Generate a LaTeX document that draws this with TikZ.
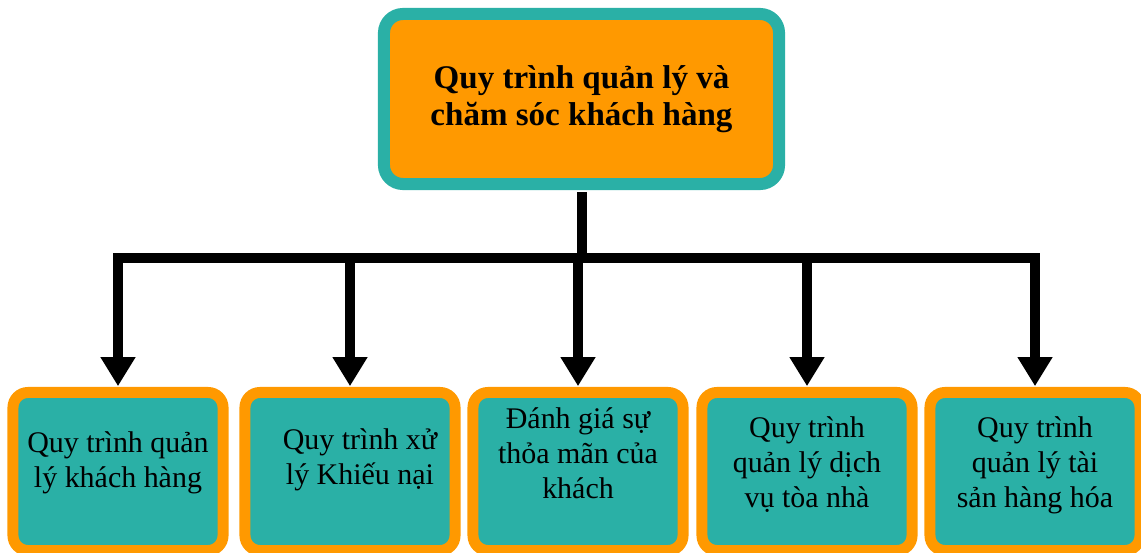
\documentclass[tikz,border=0pt]{standalone}
\usepackage{fontspec}
\setmainfont{Liberation Serif}
\usepackage{xcolor}
\usetikzlibrary{arrows.meta}
\definecolor{careOrange}{RGB}{255, 153, 0}
\definecolor{careTeal}{RGB}{42, 176, 166}
\newcommand{\boxlines}[2]{\raisebox{#1}[\height][\depth]{\begin{tabular}{@{}c@{}}#2\end{tabular}}}

\begin{document}
\begin{tikzpicture}[x=0.025cm, y=-0.025cm,
    headbox/.style={draw=careTeal, fill=careOrange, line width=0.3cm, rounded corners=0.475cm,
        minimum width=9.875cm, minimum height=4.25cm, inner sep=0pt, align=center,
        font=\fontsize{23.5pt}{26.3pt}\selectfont\bfseries},
    subbox/.style={draw=careOrange, fill=careTeal, line width=0.275cm, rounded corners=0.375cm,
        minimum width=5.25cm, minimum height=3.95cm, inner sep=0pt,
        font=\fontsize{21.3pt}{24.9pt}\selectfont},
    conn/.style={black, line width=0.25cm},
    down/.style={conn, -{Triangle[length=0.725cm, width=0.825cm]}, shorten >=0.02cm}]
            \useasboundingbox (0,0) rectangle (1141,552);

            \node[headbox] (care) at (581.5,99) {Quy trình quản lý và\\chăm sóc khách hàng};

            \node[subbox] (customer) at (118,471.5) {\boxlines{6pt}{Quy trình quản\\lý khách hàng}};
            \node[subbox] (complaint) at (350,471.5) {\hspace*{14.2pt}\boxlines{8pt}{Quy trình xử\\lý Khiếu nại}};
            \node[subbox] (satisfaction) at (578,471.5) {\boxlines{11pt}{Đánh giá sự\\thỏa mãn của\\khách}};
            \node[subbox] (service) at (807,471.5) {\boxlines{4.6pt}{Quy trình\\quản lý dịch\\vụ tòa nhà}};
            \node[subbox] (assets) at (1035,471.5) {\boxlines{4.6pt}{Quy trình\\quản lý tài\\sản hàng hóa}};

            \coordinate (bus) at (581.5,258);
            \draw[conn, shorten <=0.05cm] (care.south) -- (bus);
            \draw[conn, line cap=rect] (customer.north |- bus) -- (assets.north |- bus);

            \draw[down] (customer.north |- bus) -- (customer.north);
            \draw[down] (complaint.north |- bus) -- (complaint.north);
            \draw[down] (satisfaction.north |- bus) -- (satisfaction.north);
            \draw[down] (service.north |- bus) -- (service.north);
            \draw[down] (assets.north |- bus) -- (assets.north);
        \end{tikzpicture}
\end{document}
